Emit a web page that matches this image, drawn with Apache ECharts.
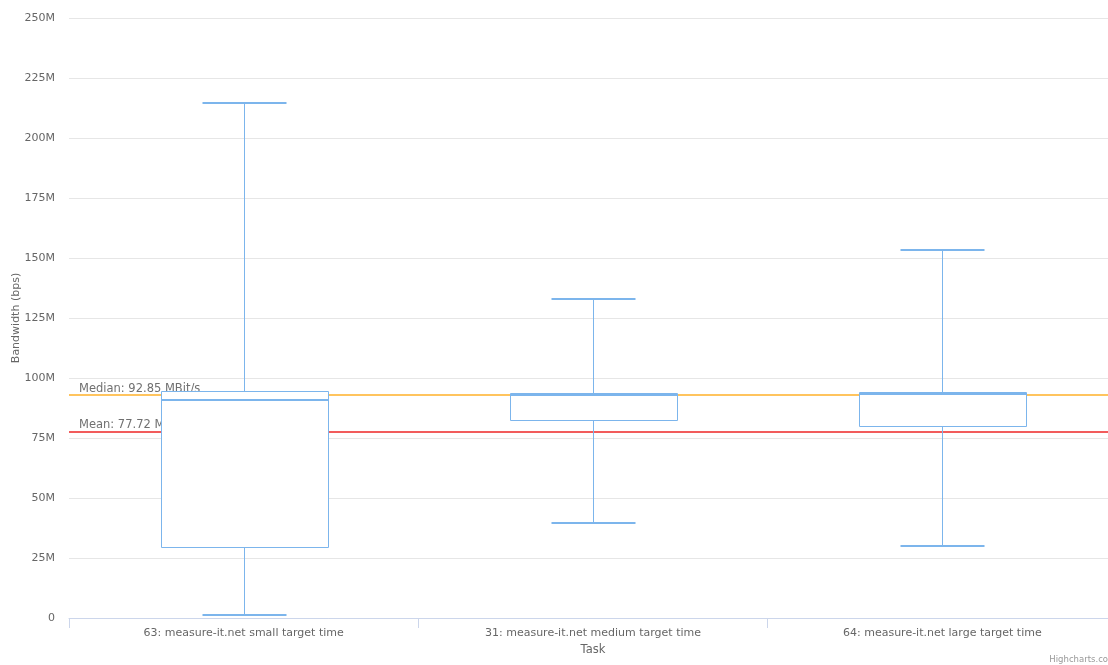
<!DOCTYPE html>
<html>
<head>
<meta charset="utf-8">
<script src="https://cdn.jsdelivr.net/npm/echarts@6/dist/echarts.min.js"></script>
<style>
  html, body { margin: 0; padding: 0; background: #fff; overflow: hidden; }
  #chart { width: 1108px; height: 665px; }
</style>
</head>
<body>
<div id="chart"></div>
<script>
// Task categories along the x axis
const categories = [
  '63: measure-it.net small target time',
  '31: measure-it.net medium target time',
  '64: measure-it.net large target time'
];
// Box statistics per task, in bits per second
const lowValues    = [1.25e6, 39.6e6, 30.0e6];
const q1Values     = [29.7e6, 82.4e6, 80.1e6];
const medianValues = [90.8e6, 93.0e6, 93.3e6];
const q3Values     = [94.5e6, 93.9e6, 94.0e6];
const highValues   = [214.6e6, 132.9e6, 153.3e6];
// Overall reference lines
const overallMedian = 92.85e6;
const overallMean = 77.72e6;
// Y axis range and step
const yMin = 0, yMax = 250e6, yStep = 25e6;

const boxData = categories.map((c, i) => [i, lowValues[i], q1Values[i], medianValues[i], q3Values[i], highValues[i]]);

const FONT = '"DejaVu Sans", Verdana, sans-serif';
const BOX_COLOR = '#7cb5ec';

function renderBox(params, api) {
  const idx = api.value(0);
  const low = api.coord([idx, api.value(1)]);
  const q1 = api.coord([idx, api.value(2)]);
  const med = api.coord([idx, api.value(3)]);
  const q3 = api.coord([idx, api.value(4)]);
  const high = api.coord([idx, api.value(5)]);
  const band = api.size([1, 0])[0];
  const boxW = Math.round(band * 0.478);
  const capW = Math.round(boxW / 2);
  const cx = Math.round(low[0]) + 0.5;
  const left = Math.round(cx - boxW / 2) + 0.5;
  const r = v => Math.round(v) + 0.5;
  const thin = { stroke: BOX_COLOR, lineWidth: 1, fill: null };
  const thick = { stroke: BOX_COLOR, lineWidth: 2, fill: null };
  return {
    type: 'group',
    children: [
      { type: 'line', shape: { x1: cx, y1: r(high[1]), x2: cx, y2: r(q3[1]) }, style: thin },
      { type: 'line', shape: { x1: cx, y1: r(q1[1]), x2: cx, y2: r(low[1]) }, style: thin },
      { type: 'rect', shape: { x: left, y: r(q3[1]), width: boxW, height: Math.round(q1[1]) - Math.round(q3[1]) },
        style: { fill: '#ffffff', stroke: BOX_COLOR, lineWidth: 1 } },
      { type: 'line', shape: { x1: left, y1: Math.round(med[1]), x2: left + boxW, y2: Math.round(med[1]) }, style: thick },
      { type: 'line', shape: { x1: cx - capW / 2, y1: Math.round(high[1]), x2: cx + capW / 2, y2: Math.round(high[1]) }, style: thick },
      { type: 'line', shape: { x1: cx - capW / 2, y1: Math.round(low[1]), x2: cx + capW / 2, y2: Math.round(low[1]) }, style: thick }
    ]
  };
}

const chart = echarts.init(document.getElementById('chart'), null, { renderer: 'canvas' });
chart.setOption({
  animation: false,
  backgroundColor: '#ffffff',
  textStyle: { fontFamily: FONT },
  grid: { left: 69, right: -9, top: 18, bottom: 47, containLabel: false, outerBoundsMode: 'none' },
  xAxis: {
    type: 'category',
    data: categories,
    boundaryGap: true,
    name: 'Task',
    nameLocation: 'middle',
    nameGap: 26,
    nameTextStyle: { color: '#666666', fontSize: 11.5, fontFamily: FONT },
    axisLine: { lineStyle: { color: '#ccd6eb', width: 1 } },
    axisTick: { show: true, length: 10, lineStyle: { color: '#ccd6eb' }, alignWithLabel: false },
    axisLabel: { color: '#666666', fontSize: 11, fontFamily: FONT, margin: 10 },
    splitLine: { show: false }
  },
  yAxis: {
    type: 'value',
    min: yMin,
    max: yMax,
    interval: yStep,
    name: 'Bandwidth (bps)',
    nameLocation: 'middle',
    nameGap: 47,
    nameMoveOverlap: false,
    nameTextStyle: { color: '#666666', fontSize: 11, fontFamily: FONT },
    axisLine: { show: false },
    axisTick: { show: false },
    axisLabel: {
      color: '#666666', fontSize: 11, fontFamily: FONT, margin: 14,
      formatter: v => v === 0 ? '0' : (v / 1e6) + 'M'
    },
    splitLine: { lineStyle: { color: '#e6e6e6', width: 1 } }
  },
  series: [
    {
      name: 'reference',
      type: 'line',
      data: [],
      z: 1,
      markLine: {
        silent: true,
        symbol: 'none',
        animation: false,
        z: 1,
        data: [
          {
            yAxis: overallMedian,
            lineStyle: { color: '#ffc45e', width: 2, type: 'solid' },
            label: {
              position: 'insideStartTop',
              formatter: 'Median: ' + (overallMedian / 1e6).toFixed(2) + ' MBit/s',
              color: '#707070', fontSize: 11.5, fontFamily: FONT, distance: [10, 0]
            }
          },
          {
            yAxis: overallMean,
            lineStyle: { color: '#f25c5c', width: 2, type: 'solid' },
            label: {
              position: 'insideStartTop',
              formatter: 'Mean: ' + (overallMean / 1e6).toFixed(2) + ' MBit/s',
              color: '#707070', fontSize: 11.5, fontFamily: FONT, distance: [10, 0]
            }
          }
        ]
      }
    },
    {
      name: 'Bandwidth',
      type: 'custom',
      z: 5,
      data: boxData,
      renderItem: renderBox,
      encode: { x: 0, y: [1, 2, 3, 4, 5] }
    }
  ],
  graphic: [
    {
      type: 'text',
      right: 0,
      top: 655,
      style: { text: 'Highcharts.co', fill: '#999999', fontSize: 8.5, fontFamily: FONT }
    }
  ]
});
</script>
</body>
</html>
